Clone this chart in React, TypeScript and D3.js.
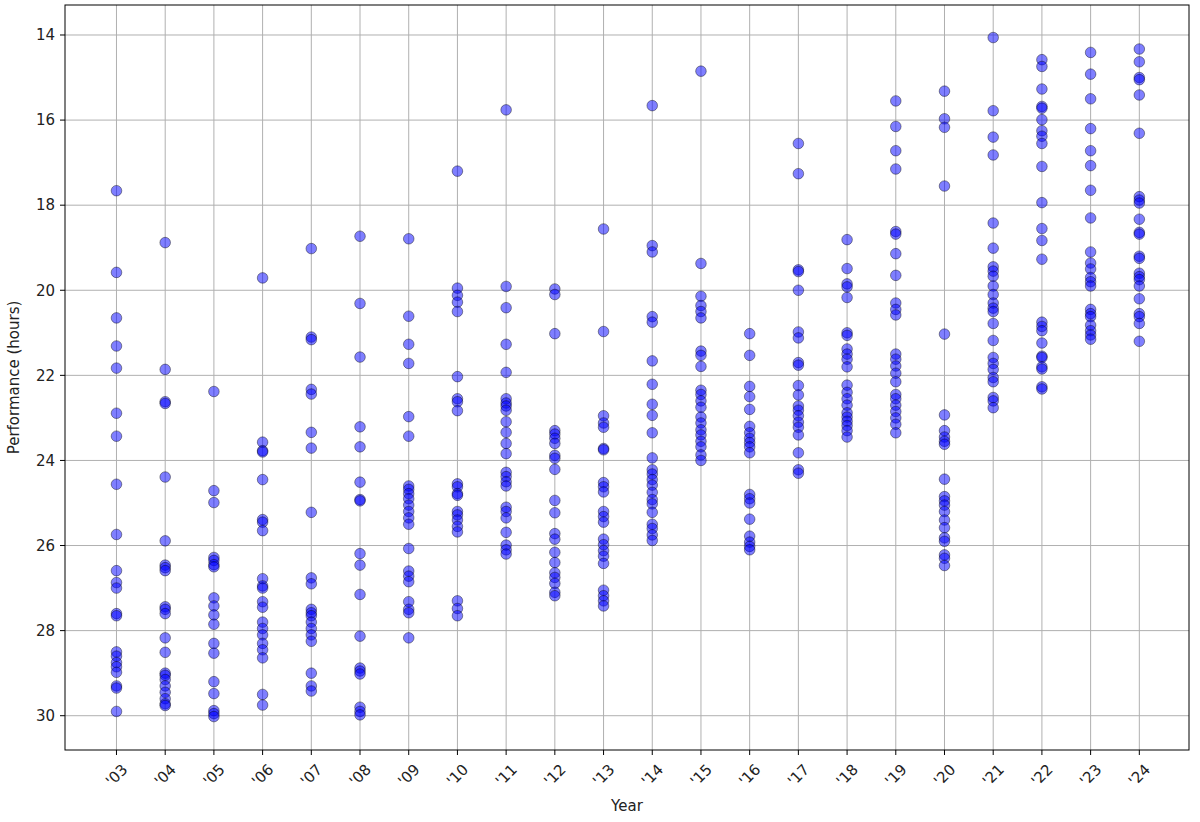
import React from "react";
import * as d3 from "d3";

const years = ["'03","'04","'05","'06","'07","'08","'09","'10","'11","'12","'13","'14","'15","'16","'17","'18","'19","'20","'21","'22","'23","'24"];

const y03 = [17.66, 19.58, 20.65, 21.31, 21.83, 22.89, 23.43, 24.56, 25.74, 26.59, 26.87, 27.0, 27.6, 27.65, 28.5, 28.6, 28.75, 28.85, 28.98, 29.3, 29.35, 29.9];
const y04 = [18.88, 21.86, 22.62, 22.66, 24.39, 25.89, 26.46, 26.52, 26.59, 27.44, 27.5, 27.6, 28.17, 28.51, 29.0, 29.05, 29.15, 29.3, 29.45, 29.6, 29.72, 29.76];
const y05 = [22.38, 24.71, 24.99, 26.28, 26.35, 26.45, 26.5, 27.23, 27.42, 27.63, 27.85, 28.3, 28.53, 29.2, 29.48, 29.88, 29.95, 30.02];
const y06 = [19.71, 23.57, 23.77, 23.8, 24.45, 25.39, 25.45, 25.65, 26.78, 26.95, 27.0, 27.32, 27.45, 27.8, 27.95, 28.1, 28.3, 28.45, 28.64, 29.5, 29.75];
const y07 = [19.02, 21.1, 21.16, 22.33, 22.44, 23.34, 23.71, 25.22, 26.76, 26.9, 27.5, 27.58, 27.65, 27.8, 27.95, 28.1, 28.25, 29.0, 29.3, 29.42];
const y08 = [18.73, 20.31, 21.57, 23.21, 23.68, 24.51, 24.92, 24.95, 26.19, 26.46, 27.15, 28.13, 28.88, 28.95, 29.02, 29.8, 29.9, 29.98];
const y09 = [18.79, 20.61, 21.27, 21.72, 22.97, 23.43, 24.6, 24.68, 24.78, 24.9, 25.05, 25.2, 25.35, 25.5, 26.07, 26.6, 26.72, 26.85, 27.32, 27.5, 27.58, 28.17];
const y10 = [17.2, 19.95, 20.12, 20.28, 20.5, 22.03, 22.55, 22.62, 22.83, 24.55, 24.62, 24.78, 24.82, 25.2, 25.28, 25.4, 25.55, 25.68, 27.3, 27.48, 27.65];
const y11 = [15.76, 19.91, 20.41, 21.27, 21.93, 22.55, 22.65, 22.72, 22.82, 23.09, 23.34, 23.6, 23.84, 24.28, 24.38, 24.5, 24.6, 25.1, 25.2, 25.35, 25.69, 25.99, 26.1, 26.2];
const y12 = [19.97, 20.1, 21.02, 23.3, 23.38, 23.48, 23.6, 23.88, 23.95, 24.21, 24.94, 25.23, 25.72, 25.85, 26.16, 26.4, 26.64, 26.75, 26.89, 27.1, 27.18];
const y13 = [18.56, 20.97, 22.95, 23.12, 23.22, 23.72, 23.75, 24.52, 24.62, 24.74, 25.2, 25.32, 25.45, 25.85, 25.98, 26.12, 26.25, 26.42, 27.05, 27.18, 27.3, 27.42];
const y14 = [15.66, 18.95, 19.1, 20.62, 20.75, 21.66, 22.21, 22.68, 22.94, 23.35, 23.94, 24.22, 24.32, 24.45, 24.58, 24.75, 24.92, 25.02, 25.22, 25.5, 25.6, 25.75, 25.88];
const y15 = [14.85, 19.37, 20.14, 20.36, 20.5, 20.65, 21.43, 21.53, 21.79, 22.35, 22.45, 22.6, 22.75, 22.98, 23.12, 23.28, 23.4, 23.55, 23.68, 23.87, 24.0];
const y16 = [21.02, 21.53, 22.26, 22.5, 22.8, 23.2, 23.35, 23.48, 23.58, 23.68, 23.82, 24.8, 24.9, 25.0, 25.38, 25.78, 25.92, 26.02, 26.1];
const y17 = [16.55, 17.26, 19.52, 19.56, 20.0, 20.98, 21.12, 21.7, 21.76, 22.24, 22.46, 22.72, 22.82, 22.95, 23.1, 23.22, 23.4, 23.82, 24.22, 24.3];
const y18 = [18.81, 19.49, 19.85, 19.92, 20.17, 21.0, 21.06, 21.38, 21.5, 21.62, 21.8, 22.23, 22.4, 22.55, 22.7, 22.88, 22.98, 23.08, 23.18, 23.3, 23.45];
const y19 = [15.55, 16.15, 16.72, 17.15, 18.62, 18.68, 19.14, 19.65, 20.3, 20.45, 20.58, 21.5, 21.62, 21.78, 21.95, 22.15, 22.45, 22.55, 22.7, 22.85, 23.0, 23.15, 23.35];
const y20 = [15.32, 15.97, 16.17, 17.55, 21.03, 22.93, 23.3, 23.45, 23.55, 23.62, 24.44, 24.85, 24.95, 25.05, 25.2, 25.4, 25.58, 25.82, 25.9, 26.22, 26.3, 26.47];
const y21 = [14.06, 15.78, 16.4, 16.82, 18.42, 19.01, 19.45, 19.55, 19.67, 19.9, 20.1, 20.3, 20.42, 20.5, 20.78, 21.18, 21.58, 21.72, 21.86, 22.05, 22.15, 22.52, 22.6, 22.76];
const y22 = [14.58, 14.74, 15.27, 15.68, 15.72, 15.99, 16.25, 16.38, 16.55, 17.09, 17.94, 18.55, 18.83, 19.27, 20.75, 20.85, 20.95, 21.24, 21.55, 21.58, 21.8, 21.85, 22.27, 22.32];
const y23 = [14.41, 14.92, 15.5, 16.2, 16.72, 17.07, 17.65, 18.3, 19.1, 19.36, 19.5, 19.7, 19.8, 19.9, 20.45, 20.55, 20.62, 20.82, 20.95, 21.05, 21.15];
const y24 = [14.33, 14.63, 15.0, 15.05, 15.41, 16.31, 17.8, 17.88, 17.95, 18.33, 18.64, 18.68, 19.2, 19.25, 19.6, 19.68, 19.75, 19.9, 20.2, 20.55, 20.62, 20.78, 21.2];

const seriesByYear = [y03, y04, y05, y06, y07, y08, y09, y10, y11, y12, y13, y14, y15, y16, y17, y18, y19, y20, y21, y22, y23, y24];
const yTicks = [14, 16, 18, 20, 22, 24, 26, 28, 30];

const W = 1200, H = 822;
const left = 65, right = 1189, top = 5, bottom = 750;
const FONT = "DejaVu Sans, sans-serif";
const FS = 15;

export default function App() {
  const x = d3.scaleLinear().domain([-1.057, 22.02]).range([left, right]);
  const y = d3.scaleLinear().domain([13.295, 30.806]).range([top, bottom]);
  const points = seriesByYear.flatMap((vals, i) => vals.map((v) => ({ i, v })));
  return (
    <svg width={W} height={H} style={{ position: "absolute", left: 0, top: 0, background: "#fff" }} fontFamily={FONT}>
      <rect x={0} y={0} width={W} height={H} fill="#fff" />
      {years.map((_, i) => (
        <line key={"gx" + i} x1={x(i)} x2={x(i)} y1={top} y2={bottom} stroke="#b0b0b0" strokeWidth={1} />
      ))}
      {yTicks.map((t) => (
        <line key={"gy" + t} x1={left} x2={right} y1={y(t)} y2={y(t)} stroke="#b0b0b0" strokeWidth={1} />
      ))}
      {points.map((p, k) => (
        <circle key={k} cx={x(p.i)} cy={y(p.v)} r={5.3} fill="rgba(0,0,255,0.5)" stroke="rgba(0,0,0,0.4)" strokeWidth={1} />
      ))}
      <rect x={left} y={top} width={right - left} height={bottom - top} fill="none" stroke="#000" strokeWidth={1} />
      {yTicks.map((t) => (
        <g key={"ty" + t}>
          <line x1={left - 5} x2={left} y1={y(t)} y2={y(t)} stroke="#000" />
          <text x={left - 10} y={y(t)} dy="0.35em" textAnchor="end" fontSize={FS} fill="#222">{t}</text>
        </g>
      ))}
      {years.map((lab, i) => (
        <g key={"tx" + i}>
          <line x1={x(i)} x2={x(i)} y1={bottom} y2={bottom + 5} stroke="#000" />
          <text transform={`translate(${x(i)},${bottom + 25}) rotate(-45)`} textAnchor="middle" dy="0.35em" fontSize={FS} fill="#222">{lab}</text>
        </g>
      ))}
      <text x={(left + right) / 2} y={811} textAnchor="middle" fontSize={FS} fill="#222">Year</text>
      <text transform={`translate(19,${(top + bottom) / 2}) rotate(-90)`} textAnchor="middle" fontSize={FS} fill="#222">Performance (hours)</text>
    </svg>
  );
}
